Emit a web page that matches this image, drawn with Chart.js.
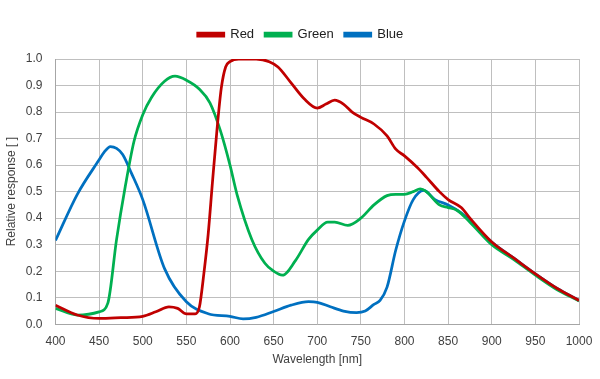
<!DOCTYPE html>
<html>
<head>
<meta charset="utf-8">
<script src="https://cdn.jsdelivr.net/npm/chart.js@4/dist/chart.umd.min.js"></script>
<style>
  html, body { margin: 0; padding: 0; background: #fff; }
  #wrap { width: 600px; height: 379px; }
</style>
</head>
<body>
<div id="wrap"><canvas id="chart"></canvas></div>
<script>
// wavelength (nm) and relative response for each channel
const redNm = [400, 425, 450, 475, 500, 515, 530, 540, 550, 560, 565, 570, 575, 580, 585, 590, 595, 600, 610, 630, 645, 655, 670, 685, 700, 710, 720, 730, 740, 750, 765, 780, 790, 800, 815, 825, 840, 850, 865, 875, 900, 925, 950, 975, 1000];
const redVal = [0.072, 0.035, 0.022, 0.025, 0.03, 0.047, 0.066, 0.06, 0.039, 0.039, 0.066, 0.19, 0.34, 0.54, 0.73, 0.89, 0.97, 0.99, 1.0, 1.0, 0.99, 0.97, 0.91, 0.85, 0.815, 0.83, 0.845, 0.83, 0.80, 0.78, 0.755, 0.71, 0.66, 0.635, 0.59, 0.555, 0.50, 0.47, 0.44, 0.40, 0.31, 0.25, 0.19, 0.135, 0.09];

const greenNm = [400, 425, 450, 460, 470, 480, 490, 500, 510, 525, 537, 550, 565, 577, 589, 600, 608, 625, 640, 650, 660, 675, 690, 700, 712, 720, 735, 750, 765, 780, 790, 800, 810, 818, 825, 840, 850, 860, 875, 900, 925, 950, 975, 1000];
const greenVal = [0.06, 0.035, 0.047, 0.08, 0.32, 0.52, 0.69, 0.79, 0.855, 0.916, 0.935, 0.92, 0.886, 0.835, 0.73, 0.60, 0.49, 0.32, 0.23, 0.20, 0.185, 0.24, 0.32, 0.355, 0.385, 0.385, 0.373, 0.40, 0.45, 0.485, 0.49, 0.49, 0.50, 0.51, 0.50, 0.45, 0.44, 0.43, 0.385, 0.30, 0.245, 0.185, 0.13, 0.088];

const blueNm = [400, 425, 450, 456, 463, 470, 477, 487, 500, 525, 550, 575, 600, 615, 630, 650, 670, 690, 700, 715, 730, 745, 755, 765, 772, 780, 790, 800, 810, 822, 835, 850, 865, 875, 900, 925, 950, 975, 1000];
const blueVal = [0.316, 0.49, 0.62, 0.65, 0.67, 0.663, 0.64, 0.57, 0.47, 0.21, 0.085, 0.04, 0.03, 0.02, 0.026, 0.048, 0.072, 0.085, 0.083, 0.066, 0.05, 0.044, 0.05, 0.075, 0.09, 0.14, 0.28, 0.39, 0.47, 0.505, 0.47, 0.45, 0.42, 0.39, 0.31, 0.25, 0.19, 0.135, 0.09];

const xTicks = [400, 450, 500, 550, 600, 650, 700, 750, 800, 850, 900, 950, 1000];

const toPoints = (xs, ys) => xs.map((x, i) => ({ x: x, y: ys[i] }));

const textColor = '#404040';
const font = { family: 'Liberation Sans, Arial, sans-serif', size: 12 };

function series(label, xs, ys, color) {
  return {
    label: label,
    data: toPoints(xs, ys),
    borderColor: color,
    backgroundColor: color,
    borderWidth: 2.75,
    pointRadius: 0,
    cubicInterpolationMode: 'monotone',
    fill: false
  };
}

// fine-tune the gap between legend and plot area, and nudge legend right
const legendGap = {
  id: 'legendGap',
  beforeInit(chart) {
    const fit = chart.legend.fit;
    chart.legend.fit = function () {
      fit.call(this);
      this.height += 8;
    };
  },
  afterLayout(chart) {
    chart.legend.left += 11;
    chart.legend.right += 11;
  }
};

new Chart(document.getElementById('chart').getContext('2d'), {
  type: 'line',
  data: {
    datasets: [
      series('Red', redNm, redVal, '#c00000'),
      series('Green', greenNm, greenVal, '#00b050'),
      series('Blue', blueNm, blueVal, '#0070c0')
    ]
  },
  options: {
    responsive: true,
    maintainAspectRatio: false,
    animation: false,
    layout: { padding: { top: 17, right: 21, left: 0, bottom: 0 } },
    plugins: {
      legend: {
        position: 'top',
        labels: {
          color: '#202020',
          font: { family: font.family, size: 13 },
          boxWidth: 26,
          boxHeight: 3,
          padding: 11
        }
      },
      tooltip: { enabled: false }
    },
    scales: {
      x: {
        type: 'linear',
        min: 400,
        max: 1000,
        afterBuildTicks: axis => { axis.ticks = xTicks.map(v => ({ value: v })); },
        afterFit: axis => {
          axis.height = 54.7;
          axis.paddingLeft = 0;
          axis.paddingRight = 0;
        },
        ticks: { color: textColor, font: font, padding: 10, maxRotation: 0, callback: v => String(v) },
        grid: { color: '#bfbfbf', lineWidth: 1, drawTicks: false },
        border: { color: '#a6a6a6' },
        title: { display: true, text: 'Wavelength [nm]', color: textColor, font: font, padding: { top: 4, bottom: 12 } }
      },
      y: {
        min: 0,
        max: 1,
        afterFit: axis => { axis.width = 55.5; },
        ticks: {
          stepSize: 0.1,
          color: textColor,
          font: font,
          padding: 13,
          callback: v => v.toFixed(1)
        },
        grid: { color: '#bfbfbf', lineWidth: 1, drawTicks: false },
        border: { color: '#a6a6a6' },
        title: { display: true, text: 'Relative response [ ]', color: textColor, font: font, padding: { bottom: 2 } }
      }
    }
  },
  plugins: [legendGap]
});
</script>
</body>
</html>
